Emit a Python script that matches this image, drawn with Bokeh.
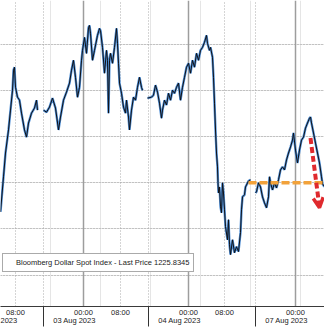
from bokeh.plotting import figure
from bokeh.models import (Range1d, LinearAxis, FixedTicker, Grid, Legend, LegendItem,
                          Arrow, OpenHead, ColumnDataSource)
from bokeh.embed import file_html
from bokeh.resources import INLINE

NaN = float("nan")

# ---- data (x = position on Bloomberg's compressed time axis, y = index level) ----
t_idx = [0, 3, 5, 8, 10, 12, 13, 14, 15, 17, 19, 21, 24, 26, 28, 31, 34, 36, 37, NaN,
         43, 46, 49, 52, 55, 58, 60, 63, 66, 69, 71, 73, 75, 77, 79, 81, 82, 84, 86, 88,
         89, 90, 92, 94, 97, 99, 100, 102, 104, 106, 107, 108, 109, 110, 112, 114, 116, 117,
         118, 119, 121, 123, 125, 126, 128, 129, 131, 133, 135, 137, 139, 141, 142, NaN,
         147, 151, 153, 155, 157, 159, 161, 162, 164, 166, 168, 170, 172, 174, 176, 178,
         180, 182, 184, 186, 188, 190, 192, 194, 196, 198, 200, 202, 204, 206, 207, 209,
         210, 212, 213, 214, 215, 216, 217, 217.5, 218, 219, 220, 221, 222, 223, 224, 225,
         227, 228, 229, 230, 232, 234, 236, 238, 240, 241, 242, 244, 245, 248, 250, NaN,
         255, 256, 258, 260, 262, 264, 266, 268, 269, 270, 272, 274, 276, 278, 280, 282,
         284, 286, 288, 290, 292, 293, 295, 296, 297, 299, 301, 303, 305, 307, 309, 310,
         311, 313, 315, 317, 319, 321, 322, 324]
price = [1224.74, 1226.26, 1227.29, 1228.29, 1229.15, 1230.01, 1230.88, 1231.01, 1230.14,
         1229.71, 1229.58, 1229.02, 1228.29, 1227.98, 1228.59, 1229.02, 1229.24, 1229.58,
         1229.15, NaN,
         1229.15, 1229.06, 1229.28, 1229.67, 1229.24, 1228.29, 1228.85, 1229.58, 1229.93,
         1230.32, 1230.88, 1231.31, 1230.57, 1229.71, 1230.14, 1231.31, 1231.74, 1232.30,
         1231.61, 1232.73, 1232.82, 1232.48, 1231.31, 1231.74, 1232.39, 1232.69, 1232.60,
         1231.87, 1230.75, 1231.74, 1231.31, 1229.02, 1231.31, 1231.61, 1231.18, 1231.87,
         1232.69, 1232.04, 1231.18, 1230.32, 1229.88, 1229.28, 1229.02, 1229.58, 1228.85,
         1228.29, 1229.15, 1229.71, 1229.58, 1230.14, 1230.57, 1230.14, 1230.01, NaN,
         1229.67, 1229.71, 1229.80, 1230.23, 1229.93, 1229.45, 1228.80, 1229.15, 1229.58,
         1229.37, 1229.88, 1229.58, 1230.01, 1229.88, 1230.14, 1230.32, 1229.58, 1230.14,
         1230.57, 1231.01, 1231.18, 1230.75, 1231.31, 1231.01, 1231.61, 1231.31, 1231.74,
         1231.87, 1232.09, 1232.39, 1232.04, 1231.74, 1231.87, 1231.44, 1230.57, 1229.45,
         1228.29, 1227.29, 1226.69, 1226.00, 1225.56, 1225.82, 1224.96, 1224.70, 1226.00,
         1225.56, 1224.83, 1224.10, 1223.53, 1224.40, 1223.32, 1222.89, 1223.53, 1222.97,
         1223.23, 1223.02, 1223.84, 1224.83, 1225.39, 1225.48, 1225.82, 1226.08, 1226.13, NaN,
         1225.56, 1225.61, 1226.00, 1225.82, 1225.39, 1225.13, 1224.92, 1225.39, 1226.26,
         1226.00, 1225.69, 1226.00, 1225.78, 1226.13, 1226.56, 1226.69, 1226.56, 1226.99,
         1227.29, 1227.55, 1227.85, 1228.16, 1227.42, 1227.12, 1226.86, 1227.42, 1227.85,
         1227.98, 1228.37, 1228.59, 1228.80, 1228.85, 1228.59, 1228.16, 1227.72, 1227.29,
         1226.86, 1226.26, 1225.95, 1225.83]

legend_text = "Bloomberg Dollar Spot Index - Last Price 1225.8345"

level_x = [248, 324]          # orange dashed support level
level_y = [1226.0, 1226.0]
arrow_x = [310, 319]          # red dashed down arrow
arrow_y = [1227.94, 1224.92]

grid_levels = [1222, 1224, 1226, 1228, 1230, 1232]
time_ticks = [15, 83, 120, 188, 224, 295]
time_labels = ["08:00", "00:00", "08:00", "00:00", "08:00", "00:00"]
day_ticks = [83, 188, 295]
hour8_ticks = [15, 120, 224]
session_ticks = [43, 148, 255]
date_ticks = [83, 188, 295]
date_labels = ["03 Aug 2023", "04 Aug 2023", "07 Aug 2023"]
first_date_tail = "2023"      # visible remainder of "02 Aug 2023" at the left edge

FONT = "Liberation Sans"
X0, X1 = 0, 324
label_shift = 9

p = figure(width=324, height=327, output_backend="svg", toolbar_location=None,
           x_range=Range1d(X0, X1), y_range=Range1d(1220.64, 1233.90),
           x_axis_location=None, y_axis_location=None, min_border=0,
           background_fill_color="white", border_fill_color="white",
           outline_line_color=None)

# grids
p.add_layout(Grid(dimension=1, ticker=FixedTicker(ticks=grid_levels),
                  grid_line_color="#9f9f9f", grid_line_dash="1 2", grid_line_width=1))
p.add_layout(Grid(dimension=0, ticker=FixedTicker(ticks=hour8_ticks + session_ticks),
                  grid_line_color="#aaaaaa", grid_line_dash="1 2", grid_line_width=1))
p.add_layout(Grid(dimension=0, ticker=FixedTicker(ticks=day_ticks),
                  grid_line_color="#9d9d9d", grid_line_width=1.5))

src = ColumnDataSource(dict(t=t_idx, px=price))
p.line("t", "px", source=src, line_color="#4f8fd6", line_width=2.4)
p.line("t", "px", source=src, line_color="#101014", line_width=1.0)

p.line(level_x, level_y, line_color="#f2a23a", line_width=3.5, line_dash="8 3")

p.add_layout(Arrow(x_start=arrow_x[0], y_start=arrow_y[0], x_end=arrow_x[1], y_end=arrow_y[1],
                   line_color="#df2a2e", line_width=4, line_dash="6 3",
                   end=OpenHead(size=10, line_color="#df2a2e", line_width=3.5)))

# legend
dummy = p.quad(left=[], right=[], top=[], bottom=[], fill_color="black", line_color="black")
legend = Legend(items=[LegendItem(label=legend_text, renderers=[dummy])],
                location=(2, 34), orientation="vertical",
                border_line_color="#555555", border_line_width=1,
                background_fill_color="white", background_fill_alpha=1.0,
                padding=4, margin=0, spacing=0,
                glyph_width=6, glyph_height=6, label_standoff=3,
                label_height=8, label_width=10,
                label_text_font=FONT, label_text_font_size="7.5px",
                label_text_color="#222222")
p.add_layout(legend)

# axes: time labels (session breaks as long minor ticks), then date labels
ax_time = LinearAxis(ticker=FixedTicker(ticks=time_ticks, minor_ticks=session_ticks),
                     major_label_overrides={t: s for t, s in zip(time_ticks, time_labels)},
                     major_tick_out=0, major_tick_in=0, minor_tick_out=20, minor_tick_in=0,
                     axis_line_color="#3a3a3a", minor_tick_line_color="#333333",
                     major_label_text_font=FONT, major_label_text_font_size="7.5px",
                     major_label_text_color="#222222", major_label_standoff=-19)
p.add_layout(ax_time, "below")

p.extra_x_ranges = {"dates": Range1d(X0 + label_shift, X1 + label_shift)}
d_ticks = [X0 + label_shift] + date_ticks
d_labels = [first_date_tail] + date_labels
ax_date = LinearAxis(x_range_name="dates", ticker=FixedTicker(ticks=d_ticks),
                     major_label_overrides={t: s for t, s in zip(d_ticks, d_labels)},
                     major_tick_out=0, major_tick_in=0, axis_line_color=None,
                     major_label_text_align="left",
                     major_label_text_font=FONT, major_label_text_font_size="7.5px",
                     major_label_text_color="#222222", major_label_standoff=-4)
p.add_layout(ax_date, "below")

open("out.html", "w").write(file_html(p, INLINE))
